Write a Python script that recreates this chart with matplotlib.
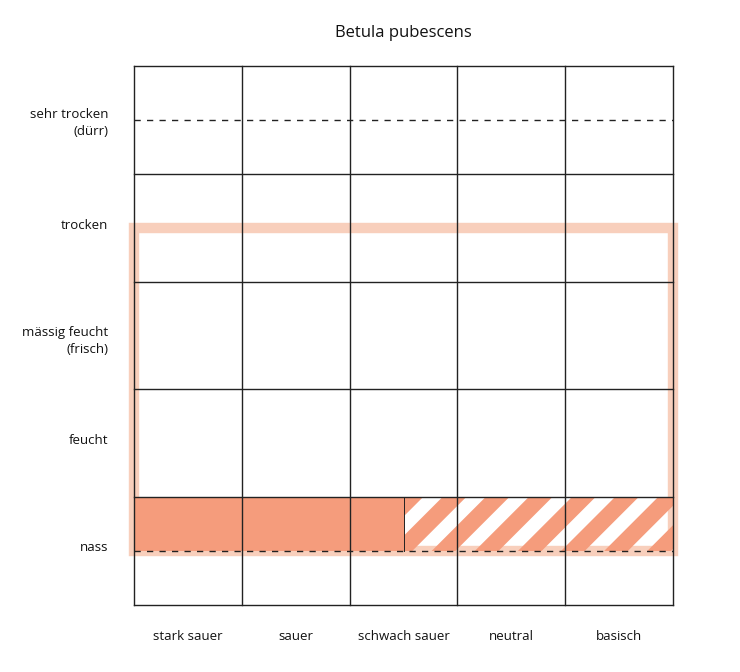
import matplotlib
matplotlib.use("Agg")
import matplotlib.pyplot as plt
from matplotlib.patches import Rectangle, Polygon

# pH classes (columns) and moisture classes (rows, bottom to top)
ph_classes = ["stark sauer", "sauer", "schwach sauer", "neutral", "basisch"]
moisture_classes = ["nass", "feucht", "mässig feucht\n(frisch)", "trocken", "sehr trocken\n(dürr)"]

# ecological range (tolerance) in class units
tolerance_ph = (0.0, 5.0)
tolerance_moist = (0.5, 3.5)

# main occurrence (solid) and occasional occurrence (hatched)
main_ph = (0.0, 2.5)
main_moist = (0.5, 1.0)
occasional_ph = (2.5, 5.0)
occasional_moist = (0.5, 1.0)

# dashed reference lines at the moisture extremes
dashed_levels = [0.5, 4.5]

title = "Betula pubescens"

FILL = "#F59C7C"
OUTLINE = "#F8CFBC"
GRID = "#222222"
FONT = "Open Sans"

fig = plt.figure(figsize=(7.40, 6.72), dpi=100)
ax = fig.add_axes([134 / 740, 67 / 672, 539 / 740, 539 / 672])
n_cols, n_rows = len(ph_classes), len(moisture_classes)
ax.set_xlim(0, n_cols)
ax.set_ylim(0, n_rows)
ax.set_xticks([])
ax.set_yticks([])
for s in ax.spines.values():
    s.set_visible(False)

# tolerance outline
ax.add_patch(Rectangle((tolerance_ph[0], tolerance_moist[0]),
                       tolerance_ph[1] - tolerance_ph[0],
                       tolerance_moist[1] - tolerance_moist[0],
                       fill=False, edgecolor=OUTLINE, linewidth=7.5,
                       zorder=1, clip_on=False))

# main occurrence
ax.add_patch(Rectangle((main_ph[0], main_moist[0]), main_ph[1] - main_ph[0],
                       main_moist[1] - main_moist[0], facecolor=FILL,
                       edgecolor="none", zorder=2))

# occasional occurrence: 45-degree stripes clipped to the region
clip = Rectangle((occasional_ph[0], occasional_moist[0]),
                 occasional_ph[1] - occasional_ph[0],
                 occasional_moist[1] - occasional_moist[0],
                 facecolor="none", edgecolor="none")
ax.add_patch(clip)
period, band, slant, phase = 0.40, 0.22, 1.0, 3.26
y0, y1 = occasional_moist
c = phase - 10 * period
while c < occasional_ph[1] + period:
    xb = c - slant * (y1 - y0)
    poly = Polygon([(xb, y0), (xb + band, y0), (c + band, y1), (c, y1)],
                   closed=True, facecolor=FILL, edgecolor="none", zorder=2)
    ax.add_patch(poly)
    poly.set_clip_path(clip)
    c += period
ax.plot([occasional_ph[0]] * 2, occasional_moist, color=GRID, lw=0.7, zorder=3)

# grid
for i in range(n_cols + 1):
    ax.plot([i, i], [0, n_rows], color=GRID, lw=1.0, zorder=4,
            solid_capstyle="projecting", clip_on=False)
for j in range(n_rows + 1):
    ax.plot([0, n_cols], [j, j], color=GRID, lw=1.0, zorder=4,
            solid_capstyle="projecting", clip_on=False)
for lvl in dashed_levels:
    ax.plot([0, n_cols], [lvl, lvl], color=GRID, lw=1.0, zorder=4,
            dashes=(4.5, 4.5))

# labels (small vertical nudges per row label)
label_nudge = [0.03, 0.03, -0.05, 0.02, -0.03]
for j, lab in enumerate(moisture_classes):
    ax.text(-0.24, j + 0.5 + label_nudge[j], lab, ha="right", va="center",
            fontsize=9.5, family=FONT, color="#111111", linespacing=1.4)
for i, lab in enumerate(ph_classes):
    ax.text(i + 0.5, -0.29, lab, ha="center", va="center", fontsize=9.5,
            family=FONT, color="#111111")
fig.text(403 / 740, 1 - 33 / 672, title, ha="center", va="center",
         fontsize=12, family=FONT, color="#111111")

fig.savefig("out.png", dpi=100, facecolor="white")
